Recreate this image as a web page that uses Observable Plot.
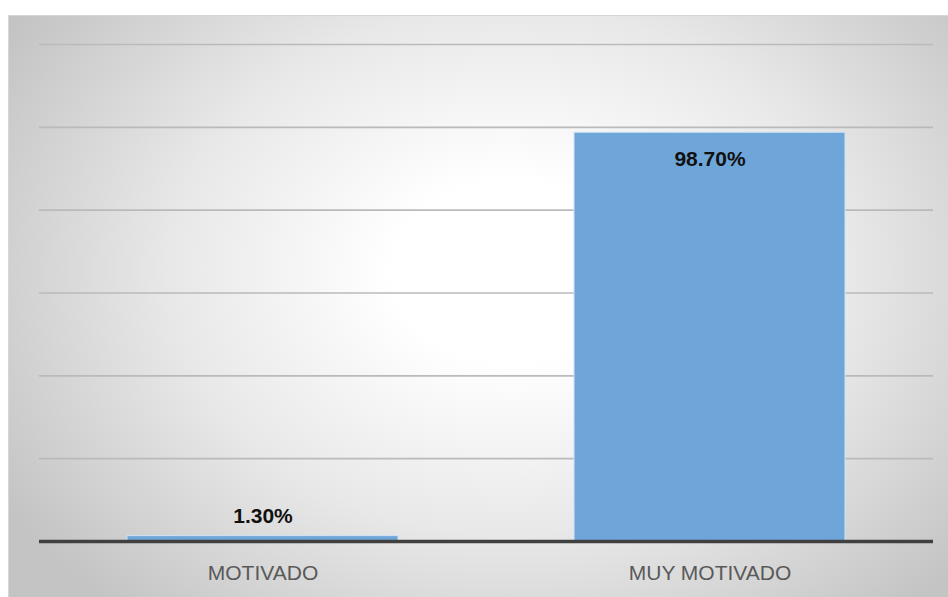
<!DOCTYPE html>
<html>
<head>
<meta charset="utf-8">
<script src="https://cdn.jsdelivr.net/npm/d3@7"></script>
<script src="https://cdn.jsdelivr.net/npm/@observablehq/plot@0.6"></script>
<style>
  html, body { margin: 0; padding: 0; background: #ffffff; width: 948px; height: 597px; overflow: hidden; }
  #frame {
    position: absolute; left: 8px; top: 15px; width: 945px; height: 581px;
    border-top: 1px solid #d6d6d6; border-left: 1px solid #d6d6d6; border-bottom: 1px solid #d0d0d0;
    background: radial-gradient(ellipse 62% 78% at 53% 44%, #ffffff 0%, #ffffff 20%, #e8e8e8 58%, #c4c4c4 100%);
  }
  #chart { position: absolute; left: 0; top: 0; }
</style>
</head>
<body>
<div id="frame"></div>
<div id="chart"></div>
<script>
const categories = ["MOTIVADO", "MUY MOTIVADO"];
const values = [1.3, 98.7];
const valueLabels = ["1.30%", "98.70%"];
const gridTicks = [20, 40, 60, 80, 100, 120];

const data = categories.map((c, i) => ({cat: c, value: values[i], label: valueLabels[i]}));

const chart = Plot.plot({
  width: 948,
  height: 597,
  marginLeft: 39,
  marginRight: 15,
  marginTop: 44,
  marginBottom: 56,
  style: {background: "transparent", fontFamily: "'Liberation Sans', Arial, sans-serif"},
  x: {domain: categories, padding: 0, label: null},
  y: {domain: [0, 120], axis: null},
  marks: [
    Plot.gridY(gridTicks, {stroke: "#bababa", strokeOpacity: 1, strokeWidth: 1.6}),
    Plot.barY(data, {x: "cat", y: "value", fill: "#6fa6d9", stroke: "#d2e3f3", strokeWidth: 1, insetLeft: 88, insetRight: 88}),
    Plot.ruleY([0], {stroke: "#404040", strokeWidth: 3.5}),
    Plot.text(data.filter(d => d.value < 50), {x: "cat", y: "value", text: "label", dy: -20, fontSize: 21, fontWeight: "bold", fill: "#111"}),
    Plot.text(data.filter(d => d.value >= 50), {x: "cat", y: "value", text: "label", dy: 27, fontSize: 21, fontWeight: "bold", fill: "#111"}),
    Plot.axisX({tickSize: 0, tickPadding: 24, fontSize: 21, color: "#595959", label: null})
  ]
});
document.getElementById("chart").appendChild(chart);
</script>
</body>
</html>
